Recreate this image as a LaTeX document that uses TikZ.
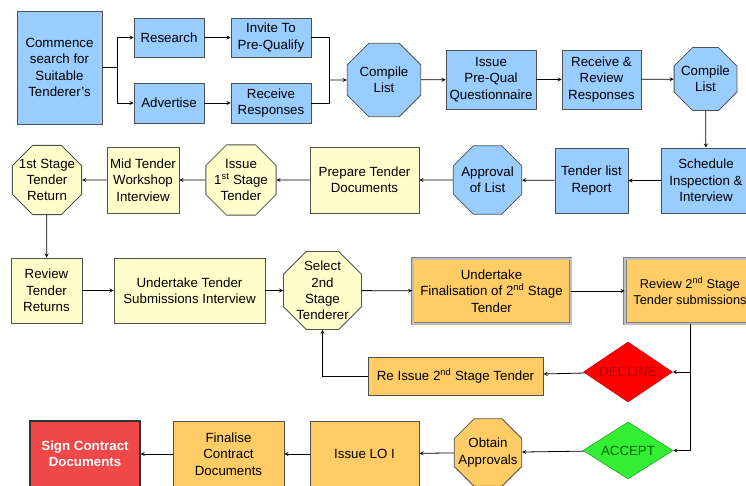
\documentclass[tikz,border=0pt]{standalone}
\usepackage{fontspec}
\setmainfont{Liberation Sans}
\usepackage{xcolor}
\usetikzlibrary{shapes.geometric, arrows, positioning}
\definecolor{procblue}{HTML}{99CCFF}
\definecolor{tenderyellow}{HTML}{FFFFCC}
\definecolor{stageorange}{HTML}{FFCC66}
\definecolor{edgegrey}{HTML}{505050}
\definecolor{signred}{HTML}{F04848}
\definecolor{declinered}{HTML}{FF0000}
\definecolor{acceptgreen}{HTML}{33EE33}
\tikzstyle{arrow} = [->,>=stealth,line width=0.8pt]

\begin{document}
\begin{tikzpicture}[
    x=1pt, y=-1pt,
    font=\fontsize{13.3}{16.3}\selectfont,
    box/.style={rectangle, draw=edgegrey, line width=0.8pt, align=center, inner sep=1pt},
    bluebox/.style={box, fill=procblue},
    yellowbox/.style={box, fill=tenderyellow},
    orangebox/.style={box, fill=stageorange},
    octagon/.style={regular polygon, regular polygon sides=8, draw=edgegrey, line width=0.8pt, align=center, inner sep=-20pt},
    doublebox/.style={box, fill=stageorange, draw=gray, double=lightgray, double distance=2pt},
    choice/.style={diamond, aspect=1.5, inner sep=0pt, line width=0.6pt},
    line/.style={line width=0.8pt}
]
    \useasboundingbox (0,0) rectangle (746,485);

    % row 1
    \node[bluebox, minimum width=85pt, minimum height=113pt] (commence) at (59.5,67.5) {Commence\\search for\\Suitable\\Tenderer's};
    \node[bluebox, minimum width=70pt, minimum height=39pt] (research) at (169,37.5) {Research};
    \node[bluebox, minimum width=80pt, minimum height=39pt] (invite) at (271,37.5) {Invite To\\Pre-Qualify};
    \node[bluebox, minimum width=70pt, minimum height=40pt] (advertise) at (169,103) {Advertise};
    \node[bluebox, minimum width=80pt, minimum height=40pt] (receive) at (271,103) {Receive\\Responses};
    \node[octagon, fill=procblue, minimum size=79.5pt] (compileA) at (384,80) {Compile\\List};
    \node[bluebox, minimum width=90pt, minimum height=59pt] (prequal) at (491,79.5) {Issue\\Pre-Qual\\Questionnaire};
    \node[bluebox, minimum width=79pt, minimum height=59pt] (review) at (601.5,79.5) {Receive \&\\Review\\Responses};
    \node[octagon, fill=procblue, minimum size=68pt] (compileB) at (705.5,79) {Compile\\List};

    % row 2
    \node[bluebox, minimum width=90pt, minimum height=65pt] (schedule) at (706,180.5) {Schedule\\Inspection \&\\Interview};
    \node[bluebox, minimum width=73pt, minimum height=65pt] (tenderlist) at (591.5,180.5) {Tender list\\Report};
    \node[octagon, fill=procblue, minimum size=74pt] (approval) at (487.5,180) {Approval\\of List};
    \node[yellowbox, minimum width=109pt, minimum height=66pt] (prepare) at (364.5,180) {Prepare Tender\\Documents};
    \node[octagon, fill=tenderyellow, minimum size=76pt] (issuefirst) at (241,180) {Issue\\1\textsuperscript{st} Stage\\Tender};
    \node[yellowbox, minimum width=72pt, minimum height=66pt] (workshop) at (143,180) {Mid Tender\\Workshop\\Interview};
    \node[octagon, fill=tenderyellow, minimum size=75pt] (firstreturn) at (47,180) {1st Stage\\Tender\\Return};

    % row 3
    \node[yellowbox, minimum width=71pt, minimum height=65pt] (returns) at (46.5,290.5) {Review\\Tender\\Returns};
    \node[yellowbox, minimum width=151pt, minimum height=65pt] (submissions) at (189.5,290.5) {Undertake Tender\\Submissions Interview};
    \node[octagon, fill=tenderyellow, minimum size=84.5pt] (select) at (322.5,290.5) {Select\\2nd\\Stage\\Tenderer};
    \node[doublebox, minimum width=158pt, minimum height=65pt] (finalisation) at (491.5,291) {Undertake\\Finalisation of 2\textsuperscript{nd} Stage\\Tender};
    \node[doublebox, minimum width=130pt, minimum height=65pt, font=\fontsize{12.8}{16.3}\selectfont] (secondreview) at (690,291) {Review 2\textsuperscript{nd} Stage\\Tender submissions};

    % decisions
    \node[choice, fill=declinered, draw=declinered!80!black, text=declinered!70!black, minimum width=89pt, minimum height=60pt] (decline) at (628,372) {DECLINE};
    \node[orangebox, minimum width=175pt, minimum height=38pt] (reissue) at (455.5,376) {Re Issue 2\textsuperscript{nd} Stage Tender};
    \node[choice, fill=acceptgreen, draw=acceptgreen!70!black, text=green!40!black, minimum width=90pt, minimum height=57pt] (accept) at (628,450.5) {ACCEPT};

    % row 4
    \node[octagon, fill=stageorange, minimum size=73pt] (approvals) at (488,452.5) {Obtain\\Approvals};
    \node[orangebox, minimum width=109pt, minimum height=66pt] (letter) at (364.5,454) {Issue LO I};
    \node[orangebox, minimum width=111pt, minimum height=66pt] (contract) at (228.5,454) {Finalise\\Contract\\Documents};
    \node[box, fill=signred, draw=black!80, line width=1.2pt, text=white, font=\fontsize{13.3}{16.3}\selectfont\bfseries, minimum width=110pt, minimum height=66pt] (sign) at (85,454) {Sign Contract\\Documents};

    \coordinate (split) at (117,67.5);
    \coordinate (join) at (329,80);

    \draw[line width=1.6pt] (commence.east) -- (split);
    \draw[arrow] (split) |- (research);
    \draw[arrow] (split) |- (advertise);
    \draw[arrow] (research) -- (invite);
    \draw[arrow] (advertise) -- (receive);
    \draw[line] (invite) -| (join);
    \draw[line] (receive) -| (join);
    \draw[arrow] (join) -- (compileA);
    \draw[arrow] (compileA) -- (prequal);
    \draw[arrow] (prequal) -- (review);
    \draw[arrow] (review) -- (compileB);
    \draw[arrow] (compileB) -- (schedule);

    \draw[arrow] (schedule) -- (tenderlist);
    \draw[arrow] (tenderlist) -- (approval);
    \draw[arrow] (approval) -- (prepare);
    \draw[arrow] (prepare) -- (issuefirst);
    \draw[arrow] (issuefirst) -- (workshop);
    \draw[arrow] (workshop) -- (firstreturn);
    \draw[arrow] (firstreturn) -- (returns);

    \draw[arrow] (returns) -- (submissions);
    \draw[arrow] (submissions) -- (select);
    \draw[arrow] (select) -- (finalisation);
    \draw[arrow] (finalisation) -- (secondreview);
    \draw[arrow] (secondreview) |- (decline);
    \draw[arrow] (secondreview) |- (accept);
    \draw[arrow] (decline) -- (reissue);
    \draw[arrow] (reissue) -| (select);

    \draw[arrow] (accept) -- (approvals);
    \draw[arrow] (approvals) -- (letter);
    \draw[arrow] (letter) -- (contract);
    \draw[arrow] (contract) -- (sign);
\end{tikzpicture}
\end{document}
